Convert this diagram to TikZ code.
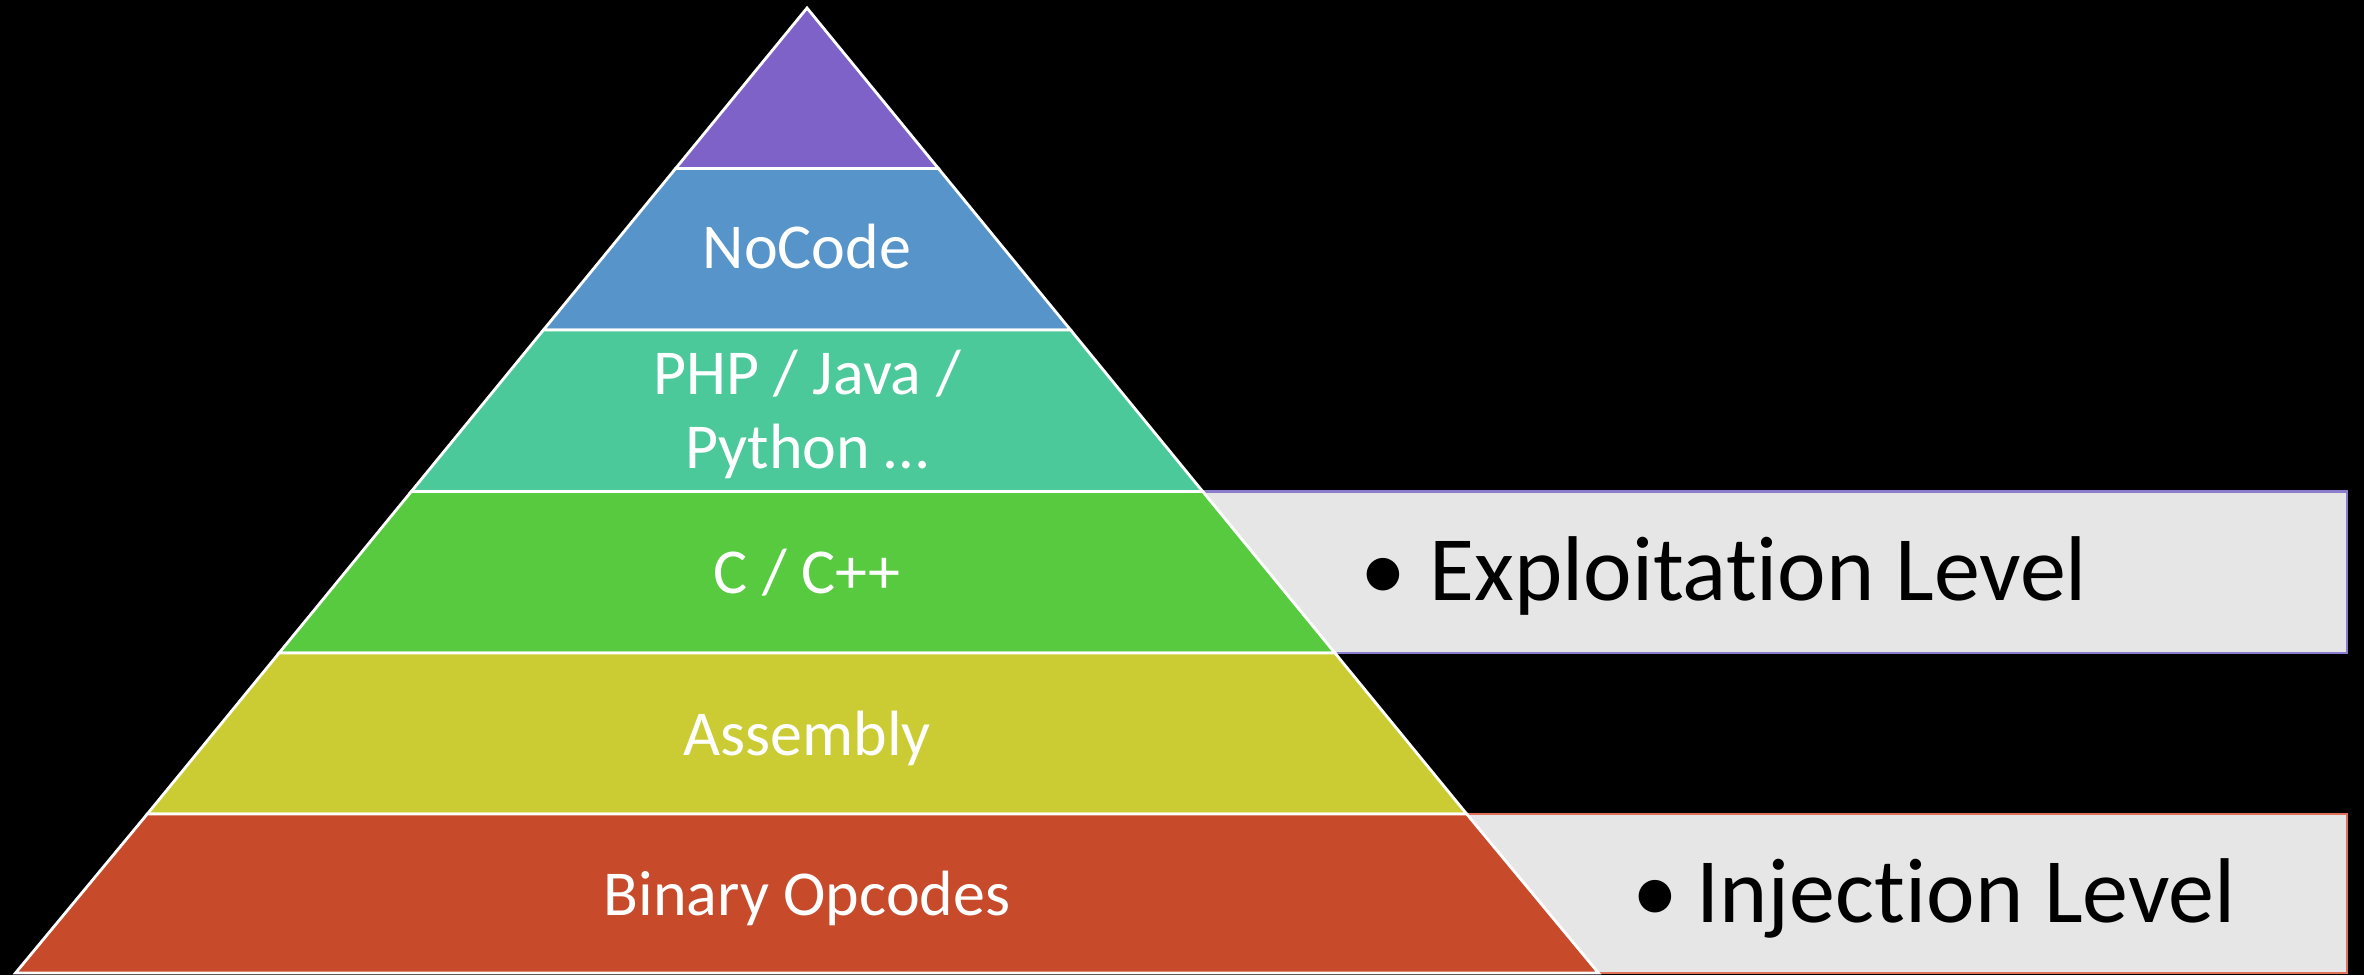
\documentclass[tikz,border=0pt]{standalone}
\usepackage{fontspec}
\setmainfont[Ligatures={NoCommon}]{Carlito}
\definecolor{tierTop}{HTML}{7F62C8}
\definecolor{tierNoCode}{HTML}{5694C9}
\definecolor{tierHigh}{HTML}{4CC99B}
\definecolor{tierC}{HTML}{58CA3F}
\definecolor{tierAsm}{HTML}{CBCC33}
\definecolor{tierBin}{HTML}{C74A2B}
\definecolor{panelFill}{HTML}{E6E6E6}
\definecolor{panelLineA}{HTML}{8C7CCC}
\definecolor{panelLineB}{HTML}{E0725A}
\begin{document}
\begin{tikzpicture}[x=0.5pt,y=-0.5pt,
  tier/.style={draw=white,line width=1.4pt,line join=miter},
  tierlabel/.style={text=white,inner sep=0pt,font=\fontsize{32}{37}\selectfont},
  panel/.style={fill=panelFill,line width=1.1pt},
  paneltext/.style={text=black,inner sep=0pt,font=\fontsize{46}{55}\selectfont}]
  % canvas
  \useasboundingbox (0,0) rectangle (2364,975);
  \fill[black] (0,0) rectangle (2364,975);

  % side panels (partly hidden behind the pyramid)
  \path[panel,draw=panelLineA] (1150,491.5) rectangle (2347,653);
  \path[panel,draw=panelLineB] (1300,814) rectangle (2347,973);

  % pyramid tiers
  \path[tier,fill=tierTop]    (807,8) -- (938.4,168.5) -- (675.6,168.5) -- cycle;
  \path[tier,fill=tierNoCode] (675.6,168.5) -- (938.4,168.5) -- (1070.6,330) -- (543.4,330) -- cycle;
  \path[tier,fill=tierHigh]   (543.4,330) -- (1070.6,330) -- (1202.7,491.5) -- (411.3,491.5) -- cycle;
  \path[tier,fill=tierC]      (411.3,491.5) -- (1202.7,491.5) -- (1334.9,653) -- (279.1,653) -- cycle;
  \path[tier,fill=tierAsm]    (279.1,653) -- (1334.9,653) -- (1466.7,814) -- (147.3,814) -- cycle;
  \path[tier,fill=tierBin]    (147.3,814) -- (1466.7,814) -- (1598.5,973) -- (15.5,973) -- cycle;

  % tier labels
  \node[tierlabel,anchor=base] (nocode) at (807,268) {NoCode};
  \node[tierlabel,anchor=base] (php)    at (807,394) {PHP / Java /};
  \node[tierlabel,anchor=base] (python) at (807,468) {Python …};
  \node[tierlabel,anchor=base] (cpp)    at (807,593) {C / C++};
  \node[tierlabel,anchor=base] (asm)    at (807,755) {Assembly};
  \node[tierlabel,anchor=base] (bin)    at (807,915) {Binary Opcodes};

  % panel texts
  \node[paneltext,anchor=base]      (expdot) at (1383,600) {•};
  \node[paneltext,anchor=base west] (exp)    at (1429,600) {Exploitation Level};
  \node[paneltext,anchor=base]      (injdot) at (1655,922) {•};
  \node[paneltext,anchor=base west] (inj)    at (1696,922) {Injection Level};
\end{tikzpicture}
\end{document}
